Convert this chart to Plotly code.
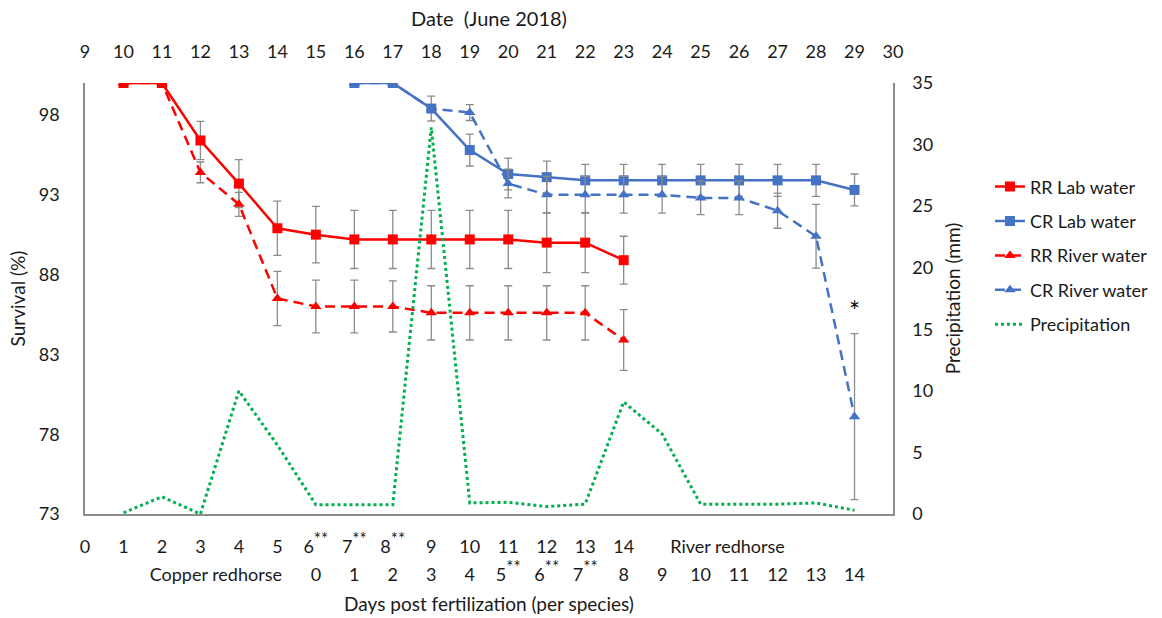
import plotly.graph_objects as go

# ---------------- data ----------------
top_dates = list(range(9, 31))                       # Date (June 2018) tick labels
rr_dates = list(range(10, 24))                       # River redhorse days
cr_dates = list(range(16, 30))                       # Copper redhorse days
precip_dates = list(range(10, 30))

rr_lab = [100, 100, 96.4, 93.7, 90.9, 90.5, 90.2, 90.2, 90.2, 90.2, 90.2, 90.0, 90.0, 88.9]
rr_lab_err = [0, 0, 1.2, 1.5, 1.7, 1.77, 1.82, 1.82, 1.82, 1.82, 1.82, 1.88, 1.88, 1.5]

cr_lab = [100, 100, 98.4, 95.8, 94.3, 94.1, 93.9, 93.9, 93.9, 93.9, 93.9, 93.9, 93.9, 93.3]
cr_lab_err = [0, 0, 0.78, 1.0, 1.0, 1.0, 1.0, 1.0, 1.0, 1.0, 1.0, 1.0, 1.0, 1.0]

rr_river = [100, 100, 94.4, 92.4, 86.5, 86.0, 86.0, 86.0, 85.6, 85.6, 85.6, 85.6, 85.6, 83.9]
rr_river_err = [0, 0, 0.65, 0.75, 1.7, 1.65, 1.65, 1.6, 1.7, 1.7, 1.7, 1.7, 1.7, 1.9]

cr_river = [100, 100, 98.4, 98.15, 93.7, 93.0, 93.0, 93.0, 93.0, 92.8, 92.8, 92.0, 90.4, 79.1]
cr_river_err = [0, 0, 0, 0.5, 0.9, 1.15, 1.15, 1.15, 1.15, 1.05, 1.05, 1.1, 2.0, 5.2]

precip = [0.1, 1.4, 0, 10.0, 5.6, 0.75, 0.75, 0.75, 31.4, 0.9, 0.95, 0.6, 0.8, 9.1, 6.5, 0.8, 0.8, 0.8, 0.9, 0.3]

# bottom tick label rows
STAR = "<sup><span style='font-size:17px'>**</span></sup>"
row1_pos = list(range(9, 24)) + [25.7]
row1_text = ["0", "1", "2", "3", "4", "5", "6" + STAR, "7" + STAR, "8" + STAR,
             "9", "10", "11", "12", "13", "14", "River redhorse"]
row2_pos = [12.4] + list(range(15, 30))
row2_text = ["Copper redhorse", "0", "1", "2", "3", "4", "5" + STAR, "6" + STAR,
             "7" + STAR, "8", "9", "10", "11", "12", "13", "14"]

left_ticks = [73, 78, 83, 88, 93, 98]
right_ticks = [0, 5, 10, 15, 20, 25, 30, 35]

# ---------------- style ----------------
RED = "#FF0000"
BLUE = "#4472C4"
GREEN = "#00B050"
ERR = "#8C8C8C"
AX = "#8C8C8C"
FONT = "Lato"
TXT = "#1a1a1a"

def err(arr):
    return dict(type="data", array=arr, visible=True, color=ERR, thickness=1.3, width=4)

fig = go.Figure()
fig.add_trace(go.Scatter(x=rr_dates, y=rr_lab, name="RR Lab water", mode="lines+markers",
                         line=dict(color=RED, width=2.5),
                         marker=dict(symbol="square", size=10, color=RED),
                         error_y=err(rr_lab_err), legendgroup="a"))
fig.add_trace(go.Scatter(x=cr_dates, y=cr_lab, name="CR Lab water", mode="lines+markers",
                         line=dict(color=BLUE, width=2.5),
                         marker=dict(symbol="square", size=10, color=BLUE),
                         error_y=err(cr_lab_err), legendgroup="b"))
fig.add_trace(go.Scatter(x=rr_dates, y=rr_river, name="RR River water", mode="lines+markers",
                         line=dict(color=RED, width=2.5, dash="10px,6px"),
                         marker=dict(symbol="triangle-up", size=10, color=RED),
                         error_y=err(rr_river_err), legendgroup="c"))
fig.add_trace(go.Scatter(x=cr_dates, y=cr_river, name="CR River water", mode="lines+markers",
                         line=dict(color=BLUE, width=2.5, dash="10px,6px"),
                         marker=dict(symbol="triangle-up", size=10, color=BLUE),
                         error_y=err(cr_river_err), legendgroup="d"))
fig.add_trace(go.Scatter(x=precip_dates, y=precip, name="Precipitation", mode="lines",
                         line=dict(color=GREEN, width=3, dash="dot"),
                         yaxis="y2", legendgroup="e"))

fig.add_annotation(x=29, y=85.7, xref="x", yref="y", text="*", showarrow=False,
                   font=dict(size=26, color="black", family=FONT))

fig.update_layout(
    width=1162, height=618,
    margin=dict(l=85, r=269, t=83, b=104, autoexpand=False),
    paper_bgcolor="white", plot_bgcolor="white",
    font=dict(family=FONT, size=18, color=TXT),
    showlegend=True,
    legend=dict(x=1.12, y=0.60, xanchor="left", yanchor="middle",
                font=dict(size=18, color=TXT), tracegroupgap=8,
                traceorder="grouped", bgcolor="rgba(0,0,0,0)"),
    xaxis=dict(range=[9, 30], side="top", tickvals=top_dates, automargin=False,
               ticktext=[str(d) for d in top_dates], showline=False, showgrid=False,
               zeroline=False, ticks="", ticklabelstandoff=20,
               title=dict(text="Date\u00a0 (June 2018)", standoff=8, font=dict(size=20))),
    xaxis2=dict(range=[9, 30], overlaying="x", side="bottom", anchor="y", automargin=False,
                tickvals=row1_pos, ticktext=row1_text, showline=True, linecolor=AX,
                linewidth=2, showgrid=False, zeroline=False, ticks="",
                ticklabelstandoff=15),
    xaxis3=dict(range=[9, 30], overlaying="x", side="bottom", anchor="y", automargin=False,
                tickvals=row2_pos, ticktext=row2_text, showline=False, showgrid=False,
                zeroline=False, ticks="", ticklabelstandoff=48,
                title=dict(text="Days post fertilization (per species)", standoff=13,
                           font=dict(size=19))),
    yaxis=dict(range=[73, 100], tickvals=left_ticks, showline=True, linecolor=AX,
               linewidth=1.5, showgrid=False, zeroline=False, ticks="", automargin=False,
               ticklabelstandoff=20,
               title=dict(text="Survival (%)", standoff=8, font=dict(size=19))),
    yaxis2=dict(range=[0, 35], tickvals=right_ticks, overlaying="y", side="right",
                showline=True, linecolor=AX, linewidth=1.5, showgrid=False, automargin=False,
                zeroline=False, ticks="", ticklabelstandoff=14,
                title=dict(text="Precipitation (mm)", standoff=14, font=dict(size=19))),
)

# invisible helper traces so xaxis2/xaxis3 are drawn
fig.add_trace(go.Scatter(x=[9], y=[73], xaxis="x2", mode="markers",
                         marker=dict(opacity=0), showlegend=False, hoverinfo="skip"))
fig.add_trace(go.Scatter(x=[9], y=[73], xaxis="x3", mode="markers",
                         marker=dict(opacity=0), showlegend=False, hoverinfo="skip"))

fig.write_html("out.html")
